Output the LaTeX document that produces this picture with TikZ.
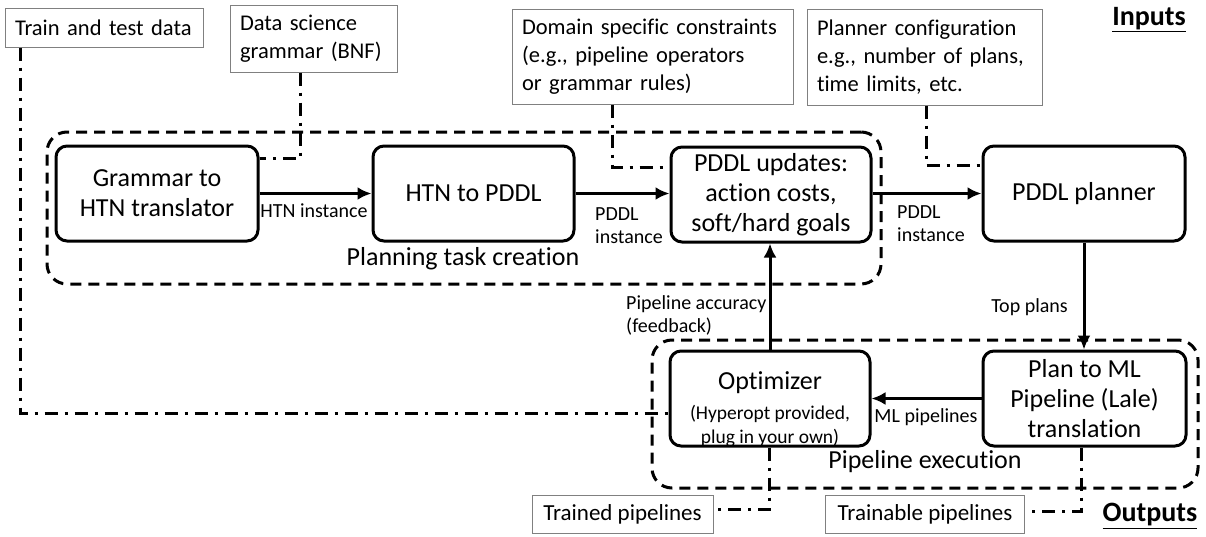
\documentclass[tikz,border=0pt]{standalone}
\usepackage{fontspec}
\setmainfont{Carlito}[Ligatures=NoCommon]
\usetikzlibrary{arrows.meta}

\begin{document}
\begin{tikzpicture}[x=1pt,y=-1pt,every node/.style={inner sep=0pt},
  stage/.style={draw,line width=3pt,rounded corners=11pt,minimum width=200pt,minimum height=95pt,align=center,font=\fontsize{26}{30}\selectfont},
  source/.style={draw=gray,line width=1pt,inner xsep=10pt,align=left,font=\fontsize{22.5}{28}\selectfont},
  sink/.style={draw=gray,line width=1pt,minimum height=38pt,font=\fontsize{23}{28}\selectfont},
  group/.style={draw,line width=3pt,dash pattern=on 11pt off 7pt,rounded corners=20pt},
  flow/.style={line width=3pt,-{Latex[length=14pt,width=13pt]}},
  feed/.style={line width=3pt,dash pattern=on 13pt off 7pt on 3pt off 7pt},
  tag/.style={font=\fontsize{20}{23}\selectfont,align=left},
  title/.style={font=\fontsize{26}{30}\selectfont},
  heading/.style={font=\bfseries\fontsize{28}{30}\selectfont}]
\useasboundingbox (0,0) rectangle (1206,536);

% groups
\node[group,minimum width=834pt,minimum height=152pt] (taskgrp) at (464,208) {};
\node[group,minimum width=546pt,minimum height=148pt] (execgrp) at (925,414) {};
\node[title] (tasklbl) at (463,259) {Planning task creation};
\node[title] (execlbl) at (925,462) {Pipeline execution};

% stages
\node[stage,minimum width=202pt] (gram) at (157,193.5) {Grammar to\\HTN translator};
\node[stage,minimum width=201pt] (htn) at (473.5,193.5) {HTN to PDDL};
\node[stage] (upd) at (771,194.5) {PDDL updates:\\action costs,\\soft/hard goals};
\node[stage,minimum width=202pt] (plan) at (1084,193.5) {PDDL planner};
\node[stage] (opt) at (770,398.5) {};
\node[align=center,font=\fontsize{26}{30}\selectfont] (opttxt) at (770,409) {Optimizer\\\fontsize{19.5}{22}\selectfont(Hyperopt provided,\\[-6pt]\fontsize{19.5}{22}\selectfont plug in your own)};
\node[stage,minimum width=203pt] (ml) at (1084.5,398.5) {Plan to ML\\Pipeline (Lale)\\translation};

% inputs and outputs
\node[source,text width=178pt,minimum height=39pt] (data) at (104,27.5) {Train and test data};
\node[source,text width=147pt,minimum height=67pt] (bnf) at (313.5,38.5) {Data science\\grammar (BNF)};
\node[source,text width=261pt,minimum height=95pt] (dom) at (652.5,56.5) {Domain specific constraints\\(e.g., pipeline operators\\or grammar rules)};
\node[source,text width=215pt,minimum height=96pt] (cfg) at (924.5,57) {Planner configuration\\e.g., number of plans,\\time limits, etc.};
\node[sink,minimum width=181pt] (trained) at (622.5,514) {Trained pipelines};
\node[sink,minimum width=199pt] (trainable) at (925,514) {Trainable pipelines};
\node[heading] (inlbl) at (1149,20) {\underline{Inputs}};
\node[heading] (outlbl) at (1150,516) {\underline{Outputs}};

% main flow
\draw[flow] (gram) -- (htn);
\draw[flow] (htn) -- (upd.west |- htn);
\draw[flow] (upd.east |- plan) -- (plan);
\draw[flow] (plan.south) -- (plan.south |- ml.north);
\draw[flow] (ml) -- (opt);
\draw[flow] (opt.north) -- (opt.north |- upd.south);
\node[tag] (htnlbl) at (314,211) {HTN instance};
\node[tag,anchor=west] (pddllbl) at (595,226) {PDDL\\instance};
\node[tag,anchor=west] (pddllbl2) at (897,223.5) {PDDL\\instance};
\node[tag,anchor=east] (toplbl) at (1068,307) {Top plans};
\node[tag] (mllbl) at (926,417) {ML pipelines};
\node[tag,anchor=west] (acclbl) at (626,315) {Pipeline accuracy\\(feedback)};

% side inputs / outputs
\coordinate (datac) at (20,413);
\coordinate (bnfc) at (300,158);
\coordinate (domc) at (612,167);
\coordinate (cfgc) at (926,165);
\coordinate (optc) at (769,509);
\coordinate (mlc) at (1081,511);
\draw[feed] (datac |- data.south) -- (datac) -- (datac -| opt.west);
\draw[feed] (bnfc |- bnf.south) -- (bnfc) -- (bnfc -| gram.east);
\draw[feed] (domc |- dom.south) -- (domc) -- (domc -| upd.west);
\draw[feed] (cfgc |- cfg.south) -- (cfgc) -- (cfgc -| plan.west);
\draw[feed] (optc |- opt.south) -- (optc) -- (optc -| trained.east);
\draw[feed] (mlc |- ml.south) -- (mlc) -- (mlc -| trainable.east);
\end{tikzpicture}
\end{document}
